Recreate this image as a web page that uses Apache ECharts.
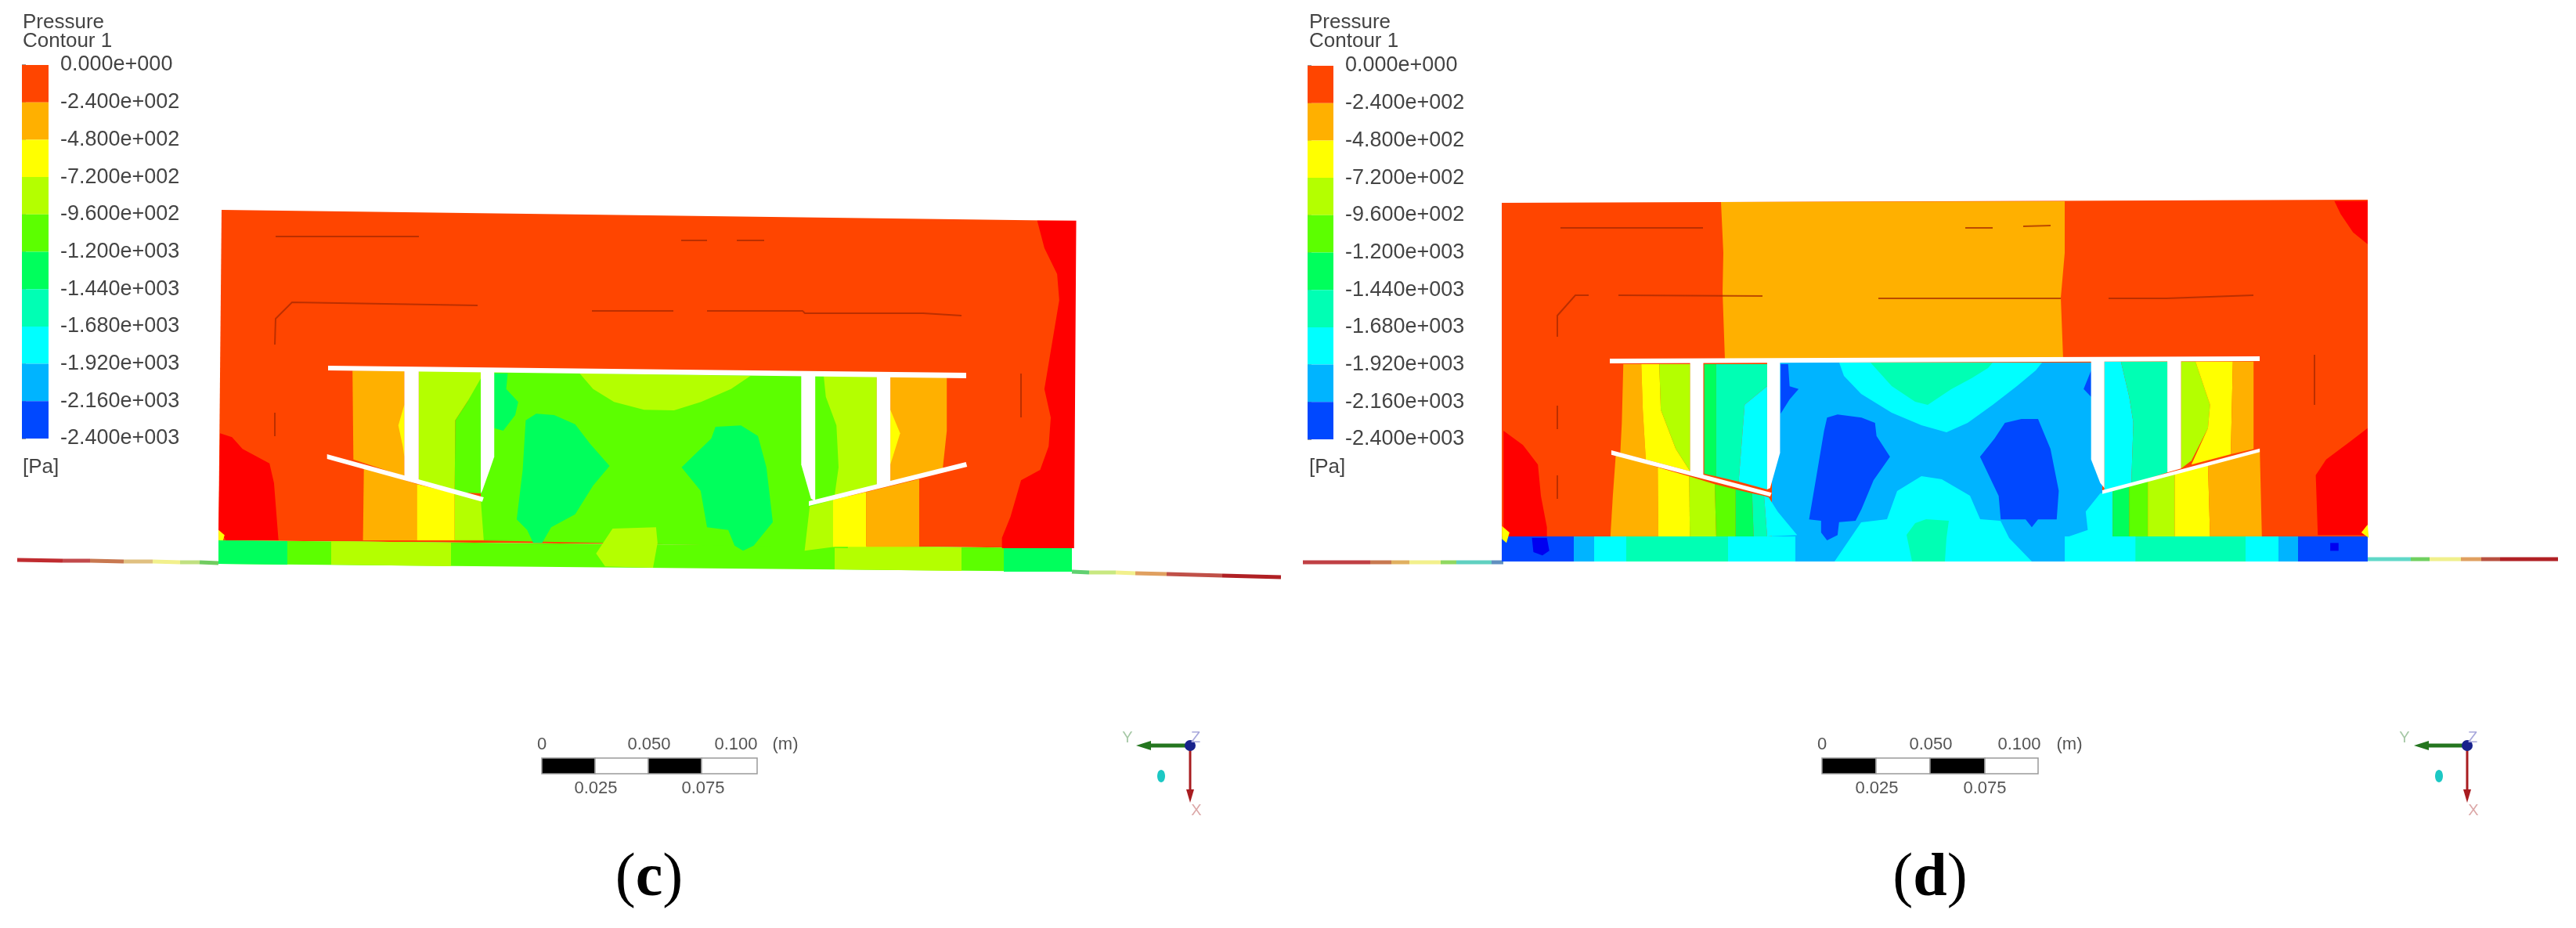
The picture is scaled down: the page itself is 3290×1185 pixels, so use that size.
<!DOCTYPE html>
<html>
<head>
<meta charset="utf-8">
<title>Pressure contours</title>
<script src="https://cdn.jsdelivr.net/npm/echarts@6/dist/echarts.min.js"></script>
<style>
html, body { margin: 0; background: #fff; }
#chart { width: 3290px; height: 1185px; }
</style>
</head>
<body>
<div id="chart"></div>
<script>
// legend
const levels = [0, -240, -480, -720, -960, -1200, -1440, -1680, -1920, -2160, -2400]
const tickLabels = ['0.000e+000', '-2.400e+002', '-4.800e+002', '-7.200e+002', '-9.600e+002', '-1.200e+003',
  '-1.440e+003', '-1.680e+003', '-1.920e+003', '-2.160e+003', '-2.400e+003']
// 0 is above the top level, 1-10 are the legend bands, 11 is below the last level, 12 is the solid walls
const bandColors = ['#ff0000', '#ff4500', '#ffb000', '#ffff00', '#b4ff00', '#5cff00', '#00ff5c', '#00ffb4',
  '#00ffff', '#00b4ff', '#0048ff', '#0000f0', '#ffffff']
const WALL = 12

// contour regions, each [band, x, y, x, y ...]
// picture = figure pixels, the other lists were read in crops with their own scale
const panelCPicture = [
  [1, 283, 268, 1374, 282, 1369, 700, 279, 690],
  [5, 279, 690, 1369, 700, 1369, 730, 279, 720],
  [6, 279, 690, 367, 691, 367, 721, 279, 720],
  [4, 423, 691, 576, 693, 576, 723, 423, 721],
  [4, 1066, 697, 1228, 699, 1228, 729, 1066, 727],
  [6, 1282, 700, 1369, 700, 1369, 730, 1282, 730]
]
const panelCLeft = [
  [0, 55, 910, 95, 925, 130, 970, 220, 1025, 235, 1100, 250, 1320, 75, 1320, 50, 1280],
  [3, 50, 1280, 70, 1300, 65, 1320, 50, 1320],
  [2, 497, 670, 670, 670, 670, 1075, 500, 1010],
  [3, 670, 800, 650, 880, 665, 960, 670, 1000],
  [5, 925, 670, 2150, 690, 2150, 1350, 925, 1320],
  [4, 718, 670, 925, 670, 925, 720, 880, 790, 840, 860, 838, 1135, 718, 1095],
  [5, 925, 700, 925, 1140, 838, 1135, 840, 860, 880, 790],
  [2, 535, 1040, 712, 1105, 712, 1320, 532, 1320],
  [3, 712, 1105, 838, 1140, 838, 1320, 712, 1320],
  [4, 838, 1140, 925, 1165, 935, 1320, 838, 1320],
  [6, 970, 680, 1015, 680, 1010, 740, 1050, 790, 1040, 840, 1000, 900, 970, 890],
  [6, 1075, 860, 1110, 835, 1170, 840, 1240, 875, 1290, 950, 1355, 1035, 1300, 1110, 1240, 1220, 1160, 1270, 1130, 1330, 1100, 1330, 1080, 1280, 1045, 1240, 1065, 1050],
  [4, 1255, 680, 1300, 740, 1370, 790, 1470, 820, 1570, 822, 1660, 790, 1760, 740, 1825, 690],
  [4, 1365, 1275, 1510, 1270, 1515, 1330, 1500, 1425, 1340, 1420, 1310, 1370],
  [WALL, 670, 665, 718, 665, 718, 1095, 670, 1075],
  [WALL, 925, 665, 970, 665, 970, 1000, 955, 1050, 930, 1130, 925, 1140],
  [WALL, 412, 990, 935, 1155, 930, 1172, 412, 1008]
]
const panelCRight = [
  [4, 465, 690, 590, 690, 590, 1116, 490, 1156, 500, 1040, 495, 880, 470, 770],
  [2, 622, 690, 755, 690, 755, 900, 745, 1052, 622, 1100],
  [3, 622, 820, 645, 910, 622, 1030],
  [4, 432, 1190, 487, 1165, 490, 1345, 420, 1360],
  [3, 487, 1165, 565, 1135, 565, 1345, 487, 1345],
  [2, 565, 1135, 690, 1085, 690, 1345, 565, 1345],
  [0, 968, 95, 1060, 95, 1055, 1350, 885, 1350, 885, 1310, 905, 1230, 930, 1090, 975, 1050, 995, 960, 1000, 850, 985, 740, 1020, 400, 1015, 300, 985, 200],
  [6, 210, 885, 270, 880, 310, 920, 330, 1040, 345, 1250, 300, 1340, 275, 1360, 255, 1340, 240, 1280, 190, 1270, 175, 1130, 130, 1040, 200, 930],
  [WALL, 412, 685, 445, 685, 445, 1170, 435, 1160, 412, 1030],
  [WALL, 590, 685, 622, 685, 622, 1100, 590, 1115],
  [WALL, 430, 1170, 800, 1020, 803, 1038, 430, 1188]
]
const panelCWalls = [
  [WALL, 419, 467, 1234, 476, 1234, 483, 419, 473]
]

const panelDPicture = [
  [1, 1918, 259, 3024, 255, 3024, 685, 1918, 685],
  [2, 2198, 258, 2201, 323, 2200, 373, 2203, 459, 2635, 459, 2632, 380, 2637, 323, 2637, 257],
  [9, 2263, 463, 2685, 463, 2685, 717, 2263, 717],
  [8, 2349, 463, 2355, 480, 2377, 503, 2416, 527, 2454, 543, 2486, 552, 2513, 540, 2545, 517, 2576, 493, 2600, 473, 2608, 463],
  [7, 2389, 463, 2416, 493, 2446, 513, 2462, 517, 2492, 497, 2518, 483, 2539, 470, 2545, 463],
  [8, 2454, 608, 2480, 612, 2516, 633, 2529, 663, 2555, 665, 2566, 687, 2595, 717, 2343, 717, 2377, 667, 2410, 663, 2423, 627],
  [7, 2435, 683, 2446, 668, 2460, 663, 2489, 665, 2486, 687, 2484, 717, 2442, 717],
  [10, 1918, 685, 2010, 685, 2010, 717, 1918, 717],
  [9, 2010, 685, 2036, 685, 2036, 717, 2010, 717],
  [8, 2036, 685, 2077, 685, 2077, 717, 2036, 717],
  [7, 2077, 685, 2207, 685, 2207, 717, 2077, 717],
  [8, 2207, 685, 2293, 685, 2293, 717, 2207, 717],
  [9, 2595, 685, 2637, 685, 2637, 717, 2595, 717],
  [8, 2637, 685, 2727, 685, 2727, 717, 2637, 717],
  [7, 2727, 685, 2868, 685, 2868, 717, 2727, 717],
  [8, 2868, 685, 2910, 685, 2910, 717, 2868, 717],
  [9, 2910, 685, 2935, 685, 2935, 717, 2910, 717],
  [10, 2935, 685, 3024, 685, 3024, 717, 2935, 717]
]
const panelDLeft = [
  [0, 105, 930, 170, 985, 220, 1060, 230, 1180, 250, 1300, 250, 1335, 105, 1335],
  [3, 100, 1295, 125, 1320, 115, 1360, 100, 1345],
  [2, 505, 675, 565, 675, 570, 850, 580, 1040, 495, 1015, 500, 900],
  [3, 565, 675, 625, 675, 630, 850, 680, 1000, 728, 1085, 580, 1040, 570, 850],
  [4, 625, 675, 728, 675, 728, 1085, 680, 1000, 630, 850],
  [6, 775, 675, 815, 675, 815, 1105, 775, 1095],
  [7, 815, 675, 985, 675, 985, 760, 910, 830, 890, 1125, 815, 1105],
  [8, 985, 760, 985, 1155, 890, 1125, 910, 830],
  [2, 480, 1020, 620, 1070, 622, 1335, 462, 1335, 470, 1180],
  [3, 620, 1070, 725, 1105, 727, 1335, 622, 1335],
  [4, 725, 1105, 810, 1135, 815, 1335, 727, 1335],
  [5, 810, 1135, 880, 1155, 880, 1335, 815, 1335],
  [6, 880, 1155, 935, 1170, 940, 1335, 880, 1335],
  [7, 935, 1170, 975, 1180, 985, 1335, 940, 1335],
  [8, 975, 1180, 990, 1185, 1020, 1240, 1085, 1330, 985, 1335],
  [10, 1030, 675, 1055, 675, 1060, 760, 1090, 770, 1060, 810, 1030, 865],
  [10, 1185, 880, 1220, 868, 1300, 880, 1345, 900, 1350, 950, 1395, 1030, 1340, 1120, 1300, 1230, 1280, 1275, 1225, 1280, 1220, 1330, 1185, 1350, 1165, 1320, 1165, 1275, 1125, 1270, 1150, 1100, 1175, 930],
  [11, 200, 1340, 250, 1340, 258, 1390, 235, 1408, 205, 1395],
  [WALL, 728, 665, 772, 665, 772, 1105, 728, 1090],
  [WALL, 985, 665, 1028, 665, 1028, 1015, 995, 1150, 985, 1155],
  [WALL, 465, 1005, 1000, 1168, 995, 1182, 465, 1022]
]
const panelDRight = [
  [10, 398, 700, 380, 770, 398, 800],
  [10, 190, 900, 230, 885, 270, 885, 300, 1000, 320, 1160, 315, 1270, 270, 1270, 255, 1300, 240, 1270, 180, 1270, 175, 1180, 130, 1030, 165, 960],
  [8, 430, 665, 470, 665, 490, 800, 500, 900, 495, 1135, 430, 1165],
  [7, 470, 665, 582, 665, 582, 1090, 495, 1135, 500, 900, 490, 800],
  [4, 615, 665, 650, 665, 685, 830, 680, 920, 640, 1045, 615, 1075],
  [3, 650, 665, 740, 665, 735, 1020, 640, 1060, 680, 920, 685, 830],
  [2, 740, 665, 790, 665, 790, 1000, 735, 1020],
  [8, 420, 1170, 385, 1240, 390, 1310, 335, 1340, 340, 1430, 505, 1430, 505, 1335, 450, 1335, 450, 1160],
  [6, 450, 1155, 490, 1140, 490, 1335, 450, 1335],
  [5, 490, 1140, 535, 1120, 535, 1335, 490, 1335],
  [4, 535, 1120, 600, 1095, 600, 1335, 535, 1335],
  [3, 600, 1095, 680, 1060, 685, 1335, 600, 1335],
  [2, 680, 1060, 805, 1005, 810, 1335, 685, 1335],
  [0, 985, 50, 1065, 50, 1065, 215, 1030, 170, 1000, 100],
  [0, 1065, 920, 1020, 975, 965, 1040, 940, 1100, 945, 1330, 1065, 1330],
  [3, 1050, 1320, 1065, 1290, 1068, 1340],
  [11, 975, 1360, 995, 1360, 995, 1390, 975, 1390],
  [WALL, 398, 660, 430, 660, 430, 1150, 420, 1130, 398, 1040],
  [WALL, 582, 660, 615, 660, 615, 1075, 582, 1090],
  [WALL, 425, 1158, 805, 998, 805, 1012, 425, 1172]
]
const panelDWalls = [
  [WALL, 2056, 458, 2886, 455, 2886, 461, 2056, 464]
]

// thin dark traces inside the body
const cTraces = [
  [352, 302, 535, 302], [870, 307, 903, 307], [941, 307, 976, 307],
  [351, 440, 352, 407, 373, 386, 610, 390], [756, 397, 860, 397],
  [903, 397, 1025, 397, 1028, 400, 1179, 400, 1228, 403],
  [1304, 477, 1304, 533], [351, 527, 351, 557]
]
const dTraces = [
  [1993, 291, 2175, 291], [2510, 291, 2545, 291], [2584, 289, 2619, 288],
  [1989, 430, 1989, 403, 2012, 377, 2029, 377], [2067, 377, 2251, 378],
  [2399, 381, 2632, 381], [2693, 381, 2767, 381, 2878, 377],
  [1989, 518, 1989, 548], [1989, 607, 1989, 637], [2956, 453, 2956, 517]
]

// outlet plate either side of the body, [colour, x0, y0, x1, y1]
const cPlate = [
  ['#c02c30', 22, 715, 80, 716], ['#c24a4c', 80, 716, 115, 716], ['#c87850', 115, 716, 158, 717],
  ['#e0c080', 158, 717, 195, 717], ['#f2f08c', 195, 717, 230, 718], ['#c0e080', 230, 718, 255, 718],
  ['#70cc60', 255, 718, 279, 719],
  ['#60d070', 1369, 730, 1391, 731], ['#c8e880', 1391, 731, 1425, 731], ['#f2f08c', 1425, 731, 1450, 732],
  ['#e0a060', 1450, 732, 1490, 733], ['#c05048', 1490, 733, 1561, 735], ['#b02024', 1561, 735, 1636, 737]
]
const dPlate = [
  ['#c04044', 1664, 718, 1750, 718], ['#c87850', 1750, 718, 1777, 718], ['#e0b060', 1777, 718, 1800, 718],
  ['#f2f08c', 1800, 718, 1840, 718], ['#90d860', 1840, 718, 1860, 718], ['#60d0c0', 1860, 718, 1905, 718],
  ['#6090c0', 1905, 718, 1920, 718],
  ['#60d8c8', 3024, 714, 3079, 714], ['#70d060', 3079, 714, 3103, 714], ['#f0f08c', 3103, 714, 3143, 714],
  ['#e0a060', 3143, 714, 3169, 714], ['#b85040', 3169, 714, 3193, 714], ['#b02024', 3193, 714, 3267, 714]
]

// scale bars, the picture is 2750 px per metre
const scaleCells = [[692, 760, '#000'], [760, 828, '#fff'], [828, 896, '#000'], [896, 967, '#fff'],
  [2327, 2396, '#000'], [2396, 2465, '#fff'], [2465, 2535, '#000'], [2535, 2603, '#fff']]
const scaleTop = 968
const scaleBottom = 988

// [text, x, y]
const scaleTexts = [
  ['0', 692, 951], ['0.050', 829, 951], ['0.100', 940, 951], ['(m)', 1003, 951], ['0.025', 761, 1007], ['0.075', 898, 1007],
  ['0', 2327, 951], ['0.050', 2466, 951], ['0.100', 2579, 951], ['(m)', 2643, 951], ['0.025', 2397, 1007], ['0.075', 2535, 1007]
]
const legendTexts = [
  ['Pressure', 29, 29], ['Contour 1', 29, 53], ['[Pa]', 29, 597],
  ['Pressure', 1672, 29], ['Contour 1', 1672, 53], ['[Pa]', 1672, 597]
]
const panelLabels = [['c', 829, 1123], ['d', 2465, 1123]]
// triad origin [x, y], then tips of the Y and X arrows
const triads = [[1520, 952, 1451, 1025], [3151, 952, 3083, 1025]]
const triadBalls = [[1483, 991], [3115, 991]]

// frames of the crops the lists were read in: left, top, x scale, y scale
const pictureFrame = [0, 0, 1, 1]
const cropCLeft = [260, 250, 2.613, 3]
const cropCRight = [800, 250, 1.845, 3]
const cropDLeft = [1880, 240, 2.613, 3]
const cropDRight = [2460, 240, 1.889, 3]

function toPicture (list, frame) {
  return list.map(item => {
    const pts = []
    for (let i = 1; i < item.length; i += 2) {
      pts.push([frame[0] + item[i] / frame[2], frame[1] + item[i + 1] / frame[3]])
    }
    return { band: item[0], pts }
  })
}

// walls have to land on top, so the two upper walls and the panels go in drawing order
const regions = [].concat(
  toPicture(panelCPicture, pictureFrame),
  toPicture(panelCLeft, cropCLeft),
  toPicture(panelCRight, cropCRight),
  toPicture(panelCWalls, pictureFrame),
  toPicture(panelDPicture, pictureFrame),
  toPicture(panelDLeft, cropDLeft),
  toPicture(panelDRight, cropDRight),
  toPicture(panelDWalls, pictureFrame)
)
const traces = cTraces.concat(dTraces)
const plate = cPlate.concat(dPlate)
const bands = levels.slice(1)

const pictureAxes = { xAxisIndex: 0, yAxisIndex: 0 }
const sansFont = '"Liberation Sans", Arial, sans-serif'

function renderRegion (params, api) {
  const r = regions[api.value(2)]
  return {
    type: 'polygon',
    shape: { points: r.pts.map(p => api.coord(p)) },
    style: { fill: bandColors[r.band] }
  }
}

function renderTrace (params, api) {
  const t = traces[api.value(2)]
  const points = []
  for (let i = 0; i < t.length; i += 2) points.push(api.coord([t[i], t[i + 1]]))
  return {
    type: 'polyline',
    shape: { points },
    style: { stroke: 'rgba(165, 40, 0, 0.75)', lineWidth: 2, fill: 'none' }
  }
}

function renderPlate (params, api) {
  const s = plate[api.value(2)]
  return {
    type: 'line',
    shape: {
      x1: api.coord([s[1], s[2]])[0],
      y1: api.coord([s[1], s[2]])[1],
      x2: api.coord([s[3], s[4]])[0],
      y2: api.coord([s[3], s[4]])[1]
    },
    style: { stroke: s[0], lineWidth: 5 }
  }
}

function renderScaleCell (params, api) {
  const c = scaleCells[api.value(2)]
  const p0 = api.coord([c[0], scaleTop])
  const p1 = api.coord([c[1], scaleBottom])
  return {
    type: 'rect',
    shape: { x: p0[0], y: p0[1], width: p1[0] - p0[0], height: p1[1] - p0[1] },
    style: { fill: c[2], stroke: '#9a9a9a', lineWidth: 1.5 }
  }
}

function renderLegendBand (params, api) {
  const i = api.value(2)
  const p0 = api.coord([0, levels[i]])
  const p1 = api.coord([1, levels[i + 1]])
  return {
    type: 'rect',
    shape: { x: p0[0], y: p0[1], width: p1[0] - p0[0], height: p1[1] - p0[1] },
    style: { fill: bandColors[i + 1] }
  }
}

function renderTriad (params, api) {
  const t = triads[api.value(2)]
  const o = api.coord([t[0], t[1]])
  const yTip = api.coord([t[2], t[1]])
  const xTip = api.coord([t[0], t[3]])
  return {
    type: 'group',
    children: [
      { type: 'line', shape: { x1: o[0], y1: o[1], x2: yTip[0] + 12, y2: o[1] }, style: { stroke: '#24761f', lineWidth: 5 } },
      { type: 'polygon', shape: { points: [[yTip[0], o[1]], [yTip[0] + 19, o[1] - 6], [yTip[0] + 19, o[1] + 6]] }, style: { fill: '#24761f' } },
      { type: 'line', shape: { x1: o[0], y1: o[1], x2: o[0], y2: xTip[1] - 10 }, style: { stroke: '#a81c20', lineWidth: 3 } },
      { type: 'polygon', shape: { points: [[o[0], xTip[1]], [o[0] - 5, xTip[1] - 17], [o[0] + 5, xTip[1] - 17]] }, style: { fill: '#a81c20' } },
      { type: 'circle', shape: { cx: o[0], cy: o[1], r: 7 }, style: { fill: '#18228c' } },
      { type: 'text', x: o[0] - 80, y: o[1] - 10, style: { text: 'Y', font: '20px ' + sansFont, fill: '#a6c8a6', align: 'center', verticalAlign: 'middle' } },
      { type: 'text', x: o[0] + 7, y: o[1] - 10, style: { text: 'Z', font: '20px ' + sansFont, fill: '#a8a8dc', align: 'center', verticalAlign: 'middle' } },
      { type: 'text', x: o[0] + 8, y: xTip[1] + 10, style: { text: 'X', font: '20px ' + sansFont, fill: '#dca8a8', align: 'center', verticalAlign: 'middle' } }
    ]
  }
}

function renderBall (params, api) {
  const p = api.coord([api.value(0), api.value(1)])
  return {
    type: 'ellipse',
    shape: { cx: p[0], cy: p[1], rx: 5, ry: 8 },
    style: { fill: '#1cc8c4' }
  }
}

function renderScaleText (params, api) {
  const t = scaleTexts[api.value(2)]
  const p = api.coord([t[1], t[2]])
  return {
    type: 'text',
    x: p[0],
    y: p[1],
    style: { text: t[0], font: '22px ' + sansFont, fill: '#555', align: 'center', verticalAlign: 'middle' }
  }
}

function renderLegendText (params, api) {
  const t = legendTexts[api.value(2)]
  const p = api.coord([t[1], t[2]])
  return {
    type: 'text',
    x: p[0],
    y: p[1],
    style: { text: t[0], font: '26px ' + sansFont, fill: '#444', align: 'left', verticalAlign: 'middle' }
  }
}

function renderPanelLabel (params, api) {
  const t = panelLabels[api.value(2)]
  const p = api.coord([t[1], t[2]])
  return {
    type: 'text',
    x: p[0],
    y: p[1],
    style: {
      text: '{p|(}{l|' + t[0] + '}{p|)}',
      align: 'center',
      verticalAlign: 'middle',
      rich: {
        p: { font: '78px "Liberation Serif", serif', fill: '#000' },
        l: { font: 'bold 78px "Liberation Serif", serif', fill: '#000' }
      }
    }
  }
}

function pictureSeries (items, renderItem) {
  return Object.assign({
    type: 'custom',
    silent: true,
    clip: false,
    animation: false,
    encode: { x: 0, y: 1 },
    data: items.map((_, i) => [0, 0, i]),
    renderItem
  }, pictureAxes)
}

function legendAxis (gridIndex) {
  return {
    gridIndex,
    type: 'value',
    position: 'right',
    min: -2400,
    max: 0,
    interval: 240,
    splitLine: { show: false },
    axisLine: { show: true, lineStyle: { color: '#7a7a7a', width: 1 } },
    axisTick: { show: true, length: 5, lineStyle: { color: '#9a9a9a', width: 2 } },
    axisLabel: {
      margin: 15,
      fontFamily: 'Liberation Sans',
      fontSize: 27,
      color: '#444',
      padding: [8, 0, 0, 0],
      showMinLabel: true,
      showMaxLabel: true,
      formatter: v => tickLabels[levels.indexOf(v)]
    }
  }
}

function hiddenAxis (gridIndex, min, max, inverse) {
  return { gridIndex, type: 'value', min, max, inverse, show: false, splitLine: { show: false } }
}

function legendSeries (index) {
  return {
    type: 'custom',
    silent: true,
    clip: false,
    animation: false,
    xAxisIndex: index,
    yAxisIndex: index,
    encode: { x: 0, y: 1 },
    data: bands.map((_, i) => [0, levels[i], i]),
    renderItem: renderLegendBand
  }
}

const chart = echarts.init(document.getElementById('chart'), null, { renderer: 'canvas' })
chart.setOption({
  backgroundColor: '#fff',
  animation: false,
  grid: [
    { left: 0, top: 0, width: 3290, height: 1185 },
    { left: 28, top: 83, width: 34, height: 477 },
    { left: 1670, top: 84, width: 33, height: 477 }
  ],
  xAxis: [hiddenAxis(0, 0, 3290, false), hiddenAxis(1, 0, 1, false), hiddenAxis(2, 0, 1, false)],
  yAxis: [hiddenAxis(0, 0, 1185, true), legendAxis(1), legendAxis(2)],
  series: [
    pictureSeries(plate, renderPlate),
    pictureSeries(regions, renderRegion),
    pictureSeries(traces, renderTrace),
    pictureSeries(scaleCells, renderScaleCell),
    pictureSeries(scaleTexts, renderScaleText),
    pictureSeries(legendTexts, renderLegendText),
    pictureSeries(panelLabels, renderPanelLabel),
    pictureSeries(triads, renderTriad),
    Object.assign(pictureSeries(triadBalls, renderBall), { data: triadBalls }),
    legendSeries(1),
    legendSeries(2)
  ]
})
</script>
</body>
</html>
